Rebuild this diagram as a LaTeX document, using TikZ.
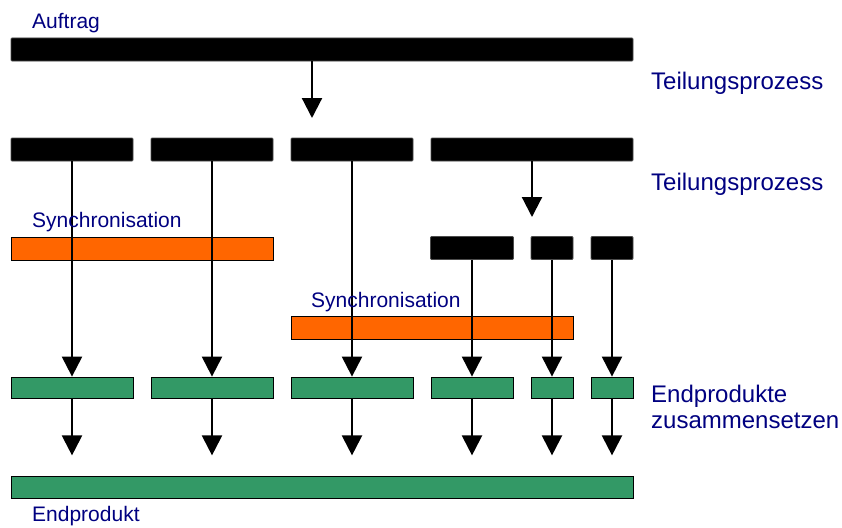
\documentclass[tikz,border=0pt]{standalone}
\usepackage{fontspec}
\setmainfont{Liberation Sans}
\usetikzlibrary{arrows.meta}
\definecolor{labelblue}{RGB}{0,0,128}
\definecolor{syncorange}{RGB}{255,102,0}
\definecolor{prodgreen}{RGB}{51,153,102}
\tikzset{
  bar/.style={rectangle, inner sep=0pt, minimum height=23pt, draw=black, line width=0.8pt},
  splitbar/.style={bar, fill=black, draw=black!70, rounded corners=1pt},
  syncbar/.style={bar, fill=syncorange},
  prodbar/.style={bar, fill=prodgreen},
  flow/.style={line width=2.2pt, -{Triangle[width=20pt,length=20pt]}},
  smalllabel/.style={anchor=base west, inner sep=0pt, text=labelblue, font=\fontsize{21}{25}\selectfont},
  biglabel/.style={anchor=base west, inner sep=0pt, text=labelblue, align=left, font=\fontsize{24}{26}\selectfont},
}
\begin{document}
\begin{tikzpicture}[x=1pt, y=-1pt]
\useasboundingbox (0,0) rectangle (842,527);

% synchronisation bars (the flow lines run over them)
\node[syncbar, minimum width=262pt] (s1) at (142,249) {};
\node[syncbar, minimum width=282pt] (s2) at (432,328) {};

% order
\node[splitbar, minimum width=622pt] (top) at (322,49.5) {};

% first split
\node[splitbar, minimum width=122pt] (b1) at (72,149.5) {};
\node[splitbar, minimum width=122pt] (b2) at (212,149.5) {};
\node[splitbar, minimum width=122pt] (b3) at (352,149.5) {};
\node[splitbar, minimum width=202pt] (b4) at (532,149.5) {};

% second split
\node[splitbar, minimum width=83pt] (c1) at (472,248) {};
\node[splitbar, minimum width=42pt] (c2) at (552,248) {};
\node[splitbar, minimum width=42pt] (c3) at (612,248) {};

% partial products
\node[prodbar, minimum width=122pt, minimum height=21pt] (g1) at (72,387.5) {};
\node[prodbar, minimum width=122pt, minimum height=21pt] (g2) at (212,387.5) {};
\node[prodbar, minimum width=122pt, minimum height=21pt] (g3) at (352,387.5) {};
\node[prodbar, minimum width=82pt, minimum height=21pt] (g4) at (472,387.5) {};
\node[prodbar, minimum width=42pt, minimum height=21pt] (g5) at (552,387.5) {};
\node[prodbar, minimum width=42pt, minimum height=21pt] (g6) at (612,387.5) {};

% final product
\node[prodbar, minimum width=622pt, minimum height=22pt] (final) at (322,487) {};

% split arrows
\coordinate (t1) at (312,118);
\coordinate (t2) at (532,217);
\draw[flow] (top.south -| t1) -- (t1);
\draw[flow] (b4.south) -- (t2);

% flows down to the partial products
\draw[flow] (b1.south) -- (g1.north);
\draw[flow] (b2.south) -- (g2.north);
\draw[flow] (b3.south) -- (g3.north);
\draw[flow] (c1.south) -- (g4.north);
\draw[flow] (c2.south) -- (g5.north);
\draw[flow] (c3.south) -- (g6.north);

% assembly arrows
\foreach \g in {g1,g2,g3,g4,g5,g6}{
  \coordinate (\g-end) at ([yshift=-57pt]\g.south);
  \draw[flow] (\g.south) -- (\g-end);
}

% labels
\node[smalllabel] (lAuftrag) at (32,29) {Auftrag};
\node[biglabel] (lTeil1) at (651,89) {Teilungsprozess};
\node[biglabel] (lTeil2) at (651,190) {Teilungsprozess};
\node[smalllabel] (lSync1) at (32,227) {Synchronisation};
\node[smalllabel] (lSync2) at (311,307) {Synchronisation};
\node[biglabel] (lEnd) at (651,428) {Endprodukte\\zusammensetzen};
\node[smalllabel] (lProd) at (32,521.5) {Endprodukt};
\end{tikzpicture}
\end{document}
